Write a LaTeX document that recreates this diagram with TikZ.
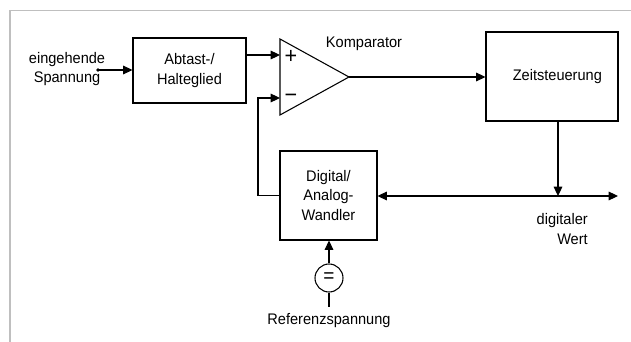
\documentclass[tikz,border=0pt]{standalone}
\usepackage{fontspec}
\setmainfont[FakeStretch=0.95]{Liberation Sans}
\usetikzlibrary{arrows.meta}
\tikzset{
  blk/.style={draw, line width=0.8pt, minimum width=#1, inner sep=0pt, align=center},
  lbl/.style={inner sep=0pt, align=center},
  con/.style={line width=0.8pt},
  tip/.tip={Triangle[length=7pt,width=6.5pt]},
  arr/.style={con, -tip},
  every node/.style={font=\fontsize{11.5}{14.5}\selectfont},
}
\begin{document}
\begin{tikzpicture}[x=0.75pt,y=-0.75pt]
\useasboundingbox (0,0) rectangle (631,342);
% frame
\draw[line width=1.1pt, color=black!25] (10,342) -- (10,10.5) -- (631,10.5);
% blocks
\node[blk=84.75pt, minimum height=48.75pt] (sh) at (189.5,70.5) {Abtast-/\\Halteglied};
\node[blk=99pt, minimum height=66.75pt] (zs) at (552,76.5) {\hspace*{8pt}Zeitsteuerung};
\node[blk=72.75pt, minimum height=66.75pt] (da) at (328.5,195.5) {Digital/\\Analog-\\Wandler};
\node[draw, circle, line width=0.8pt, minimum size=21pt, inner sep=0pt] (ref) at (329,278) {\fontsize{15}{15}\selectfont =};
% comparator
\coordinate (cA) at (280,39);
\coordinate (cB) at (280,115);
\coordinate (cO) at (349,77);
\coordinate (cP) at (280,55);
\coordinate (cM) at (280,98);
\draw[con, line join=miter] (cA) -- (cO) -- (cB) -- cycle;
\node[lbl] (plus) at (291,57) {\fontsize{17}{17}\selectfont +};
\node[lbl] (minus) at (291,98) {\fontsize{17}{17}\selectfont −};
\node[lbl] (komp) at (364,44) {Komparator};
% input
\node[lbl] (in) at (67,69) {eingehende\\Spannung};
\coordinate (dot) at (98,70);
\fill (dot) circle (1.4pt);
\draw[arr] (dot) -- (sh.west |- dot);
\draw[arr] (sh.east |- cP) -- (cP);
\draw[arr] (cO) -- (zs.west |- cO);
% feedback
\coordinate (fb) at (258,195.5);
\draw[arr] (da.west) -- (fb) -- (fb |- cM) -- (cM);
% digital value
\coordinate (dvE) at (618,196);
\coordinate (dvJ) at (558,196);
\draw[con, tip-tip] (da.east |- dvE) -- (dvE);
\draw[arr] (zs.south -| dvJ) -- (dvJ);
\node[lbl, align=right, anchor=east] (dw) at (588,229) {digitaler\\Wert};
% reference
\draw[arr] (ref.north) -- (da.south -| ref.north);
\coordinate (refE) at (329,307);
\draw[con] (ref.south) -- (refE);
\node[lbl] (rs) at (329,321) {Referenzspannung};
\end{tikzpicture}
\end{document}
